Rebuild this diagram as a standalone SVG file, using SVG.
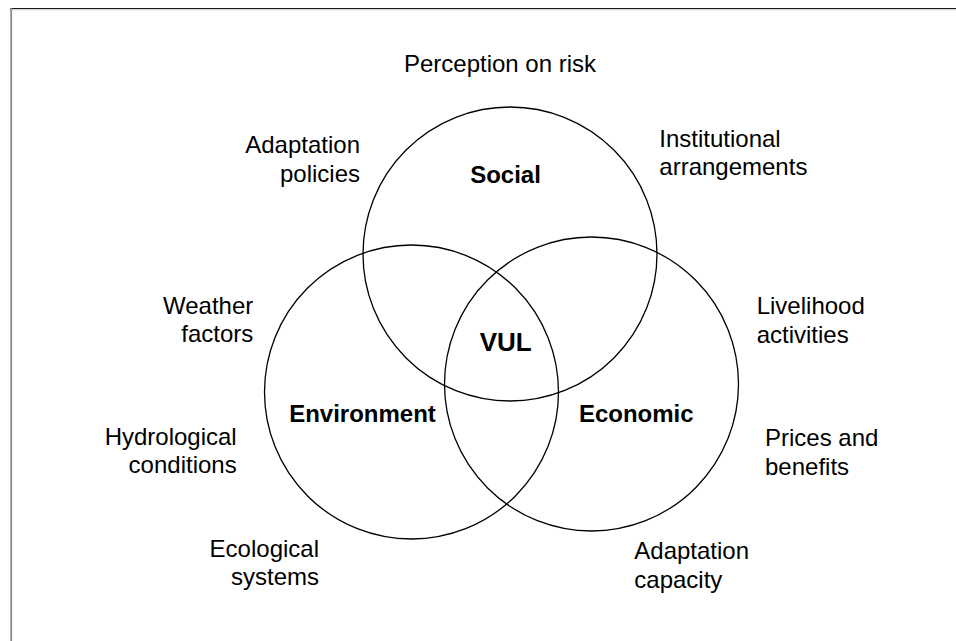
<svg xmlns="http://www.w3.org/2000/svg" width="956" height="641" viewBox="0 0 956 641">
<style>
.c{fill:none;stroke:#000;stroke-width:1.3}
.t{font-family:"Liberation Sans",Arial,sans-serif;font-size:24px;fill:#000}
.b{font-family:"Liberation Sans",Arial,sans-serif;font-size:24px;font-weight:bold;fill:#000;text-anchor:middle}
.r{text-anchor:end}
.m{text-anchor:middle}
</style>
<rect x="0" y="0" width="956" height="641" fill="#fff"/>
<g id="frame">
<line x1="10" y1="8.6" x2="956" y2="8.6" stroke="#1a1a1a" stroke-width="1.4"/>
<line x1="12" y1="9.9" x2="956" y2="9.9" stroke="#e0e0e0" stroke-width="1"/>
<line x1="11.2" y1="8" x2="11.2" y2="641" stroke="#8a8a8a" stroke-width="1.8"/>
</g>
<g id="connectors"></g>
<g id="social"><circle class="c" cx="510" cy="254" r="147"/><text class="b" x="505.5" y="183.3">Social</text></g>
<g id="environment"><circle class="c" cx="411.5" cy="392" r="147"/><text class="b" x="362.5" y="422.3">Environment</text></g>
<g id="economic"><circle class="c" cx="591.5" cy="384" r="147"/><text class="b" x="636.3" y="422.3">Economic</text></g>
<g id="vul"><text class="b" x="505.7" y="350.7" style="font-size:26px">VUL</text></g>
<g id="perception"><text class="t m" x="500" y="71.7">Perception on risk</text></g>
<g id="adaptation-policies"><text class="t r" x="360" y="153.3">Adaptation</text><text class="t r" x="360" y="181.5">policies</text></g>
<g id="institutional"><text class="t" x="659.3" y="146.5">Institutional</text><text class="t" x="659.3" y="174.5">arrangements</text></g>
<g id="weather"><text class="t r" x="253.3" y="313.5">Weather</text><text class="t r" x="253.3" y="342">factors</text></g>
<g id="livelihood"><text class="t" x="756.7" y="314.3">Livelihood</text><text class="t" x="756.7" y="342.7">activities</text></g>
<g id="hydrological"><text class="t r" x="236.7" y="445">Hydrological</text><text class="t r" x="236.7" y="473.3">conditions</text></g>
<g id="prices"><text class="t" x="765" y="446">Prices and</text><text class="t" x="765" y="474.5">benefits</text></g>
<g id="ecological"><text class="t r" x="319" y="556.7">Ecological</text><text class="t r" x="319" y="585">systems</text></g>
<g id="adaptation-capacity"><text class="t" x="634.3" y="559.3">Adaptation</text><text class="t" x="634.3" y="588">capacity</text></g>
</svg>
